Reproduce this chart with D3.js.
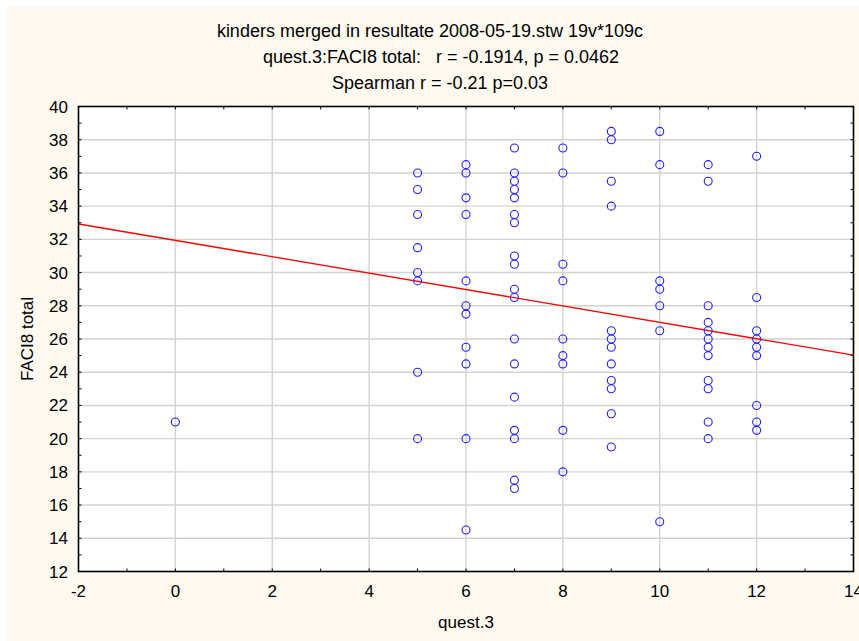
<html>
<head>
<script src="https://d3js.org/d3.v7.min.js"></script>
<style>
body { margin:0; background:#fff; }
text { font-family: "Liberation Sans", Arial, sans-serif; fill:#000; white-space: pre; }
</style>
</head>
<body>
<div id="chart"></div>
<script>
// quest.3 values, one list of FACI8 totals for each
var xs = [0, 5, 6, 7, 8, 9, 10, 11, 12];
var ys_by_x = [
	[21],
	[36, 35, 33.5, 31.5, 30, 29.5, 24, 20],
	[36.5, 36, 34.5, 33.5, 29.5, 28, 27.5, 25.5, 24.5, 20, 14.5],
	[37.5, 36, 35.5, 35, 34.5, 33.5, 33, 31, 30.5, 29, 28.5, 26, 24.5, 22.5, 20.5, 20, 17.5, 17],
	[37.5, 36, 30.5, 29.5, 26, 25, 24.5, 20.5, 18],
	[38.5, 38, 35.5, 34, 26.5, 26, 25.5, 24.5, 23.5, 23, 21.5, 19.5],
	[38.5, 36.5, 29.5, 29, 28, 26.5, 15],
	[36.5, 35.5, 28, 27, 26.5, 26, 25.5, 25, 23.5, 23, 21, 20],
	[37, 28.5, 26.5, 26, 25.5, 25, 22, 21, 20.5]
];
// fitted line
var fit_intercept = 31.94;
var fit_slope = -0.4935;
var x_ticks = [-2, 0, 2, 4, 6, 8, 10, 12, 14];
var y_ticks = [12, 14, 16, 18, 20, 22, 24, 26, 28, 30, 32, 34, 36, 38, 40];
var titles = [
	"kinders merged in resultate 2008-05-19.stw 19v*109c",
	"quest.3:FACI8 total:   r = -0.1914, p = 0.0462",
	"Spearman r = -0.21 p=0.03"
];

var width = 859, height = 641;
//note: "top" is taken by window.top, so plot_* names
var plot_l = 78.5, plot_r = 853.5, plot_t = 106.5, plot_b = 571.5;

var svg = d3.select("#chart").append("svg")
	.attr("width", width)
	.attr("height", height);

// cream panel
svg.append("rect")
	.attr("x", 7).attr("y", 7)
	.attr("width", width - 7).attr("height", height - 7)
	.attr("fill", "#fefaf0");

var x = d3.scaleLinear().domain([-2, 14]).range([plot_l, plot_r]);
var y = d3.scaleLinear().domain([12, 40]).range([plot_b, plot_t]);

svg.append("rect")
	.attr("x", plot_l).attr("y", plot_t)
	.attr("width", plot_r - plot_l).attr("height", plot_b - plot_t)
	.attr("fill", "#fff");

// grid
svg.append("g").selectAll("line")
	.data(x_ticks.slice(1, -1))
	.enter().append("line")
	.attr("x1", function(d){return x(d);}).attr("x2", function(d){return x(d);})
	.attr("y1", plot_t).attr("y2", plot_b)
	.attr("stroke", "#d3d3d3").attr("stroke-width", 1.4);
svg.append("g").selectAll("line")
	.data(y_ticks.slice(1, -1))
	.enter().append("line")
	.attr("y1", function(d){return y(d);}).attr("y2", function(d){return y(d);})
	.attr("x1", plot_l).attr("x2", plot_r)
	.attr("stroke", "#d3d3d3").attr("stroke-width", 1.4);

// inside ticks on all four sides
var xs_all = d3.range(-2, 15, 1);
var ys_all = d3.range(12, 41, 1);
var tk = svg.append("g").attr("stroke", "#000").attr("stroke-width", 1);
xs_all.forEach(function(v){
	tk.append("line").attr("x1", x(v)).attr("x2", x(v)).attr("y1", plot_b).attr("y2", plot_b - 3);
	tk.append("line").attr("x1", x(v)).attr("x2", x(v)).attr("y1", plot_t).attr("y2", plot_t + 3);
});
ys_all.forEach(function(v){
	tk.append("line").attr("y1", y(v)).attr("y2", y(v)).attr("x1", plot_l).attr("x2", plot_l + 3);
	tk.append("line").attr("y1", y(v)).attr("y2", y(v)).attr("x1", plot_r).attr("x2", plot_r - 3);
});

// regression line
svg.append("line")
	.attr("x1", x(-2)).attr("y1", y(fit_intercept + fit_slope * -2))
	.attr("x2", x(14)).attr("y2", y(fit_intercept + fit_slope * 14))
	.attr("stroke", "#ff0000").attr("stroke-width", 1.4);

// points
var points = [];
xs.forEach(function(xv, i){
	ys_by_x[i].forEach(function(yv){ points.push({x: xv, y: yv}); });
});
svg.append("g").selectAll("circle")
	.data(points)
	.enter().append("circle")
	.attr("cx", function(d){return x(d.x);})
	.attr("cy", function(d){return y(d.y);})
	.attr("r", 4)
	.attr("fill", "none")
	.attr("stroke", "#2020ff")
	.attr("stroke-width", 1.1);

// frame
svg.append("rect")
	.attr("x", plot_l).attr("y", plot_t)
	.attr("width", plot_r - plot_l).attr("height", plot_b - plot_t)
	.attr("fill", "none").attr("stroke", "#000").attr("stroke-width", 1.6);

// tick labels
svg.append("g").selectAll("text")
	.data(x_ticks)
	.enter().append("text")
	.attr("x", function(d){return x(d);})
	.attr("y", 597)
	.attr("text-anchor", "middle")
	.style("font-size", "17px")
	.text(function(d){return d;});
svg.append("g").selectAll("text")
	.data(y_ticks)
	.enter().append("text")
	.attr("x", 68)
	.attr("y", function(d){return y(d) + 6;})
	.attr("text-anchor", "end")
	.style("font-size", "17px")
	.text(function(d){return d;});

// titles
var title_x = [430, 441, 440];
var title_y = [37, 63, 89];
titles.forEach(function(t, i){
	svg.append("text")
		.attr("x", title_x[i]).attr("y", title_y[i])
		.attr("text-anchor", "middle")
		.attr("xml:space", "preserve")
		.style("font-size", "18px")
		.text(t);
});

svg.append("text")
	.attr("x", (plot_l + plot_r) / 2).attr("y", 628)
	.attr("text-anchor", "middle")
	.style("font-size", "17px")
	.text("quest.3");

svg.append("text")
	.attr("transform", "translate(33,339) rotate(-90)")
	.attr("text-anchor", "middle")
	.style("font-size", "17px")
	.text("FACI8 total");
</script>
</body>
</html>
